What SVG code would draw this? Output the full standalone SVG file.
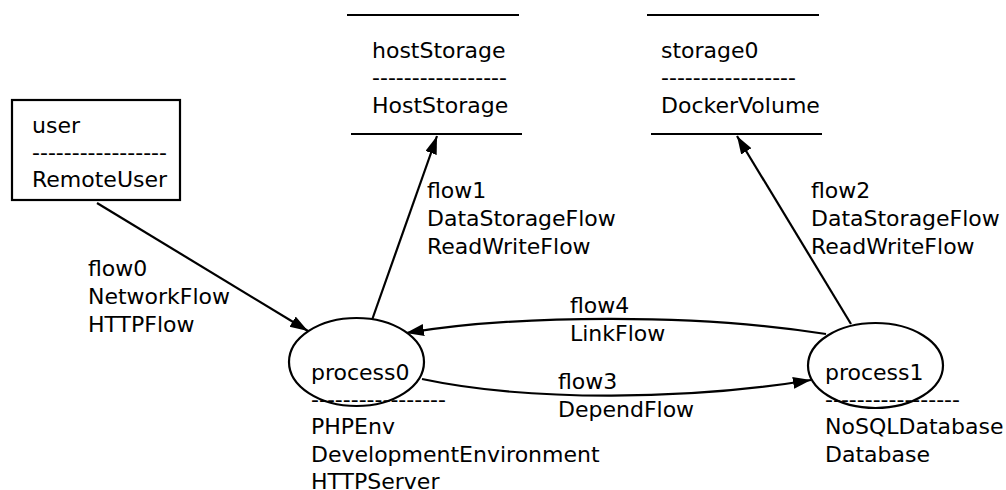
<svg xmlns="http://www.w3.org/2000/svg" width="1006" height="490" viewBox="0 0 1006 490">
<defs>
<marker id="arr" markerUnits="userSpaceOnUse" markerWidth="20" markerHeight="14" refX="18" refY="6" orient="auto">
<path d="M0,0 L18,6 L0,12 z" fill="#000"/>
</marker>
<style>
text{font-family:"DejaVu Sans",sans-serif;font-size:22px;fill:#000}
.shape{fill:#fff;stroke:#000;stroke-width:2.2}
.line{stroke:#000;stroke-width:2.2;fill:none}
.edge{stroke:#000;stroke-width:2.2;fill:none;marker-end:url(#arr)}
</style>
</defs>
<rect width="1006" height="490" fill="#fff"/>
<g id="connectors">
<path class="edge" d="M97,203 L308,331"/>
<path class="edge" d="M372,320 L437,136"/>
<path class="edge" d="M851,324 L737,136"/>
<path class="edge" d="M826,334 C700,314 520,314 406,333"/>
<path class="edge" d="M422,379 C530,402 690,400 811,380"/>
</g>
<g id="user">
<rect class="shape" x="12" y="100" width="168" height="100"/>
<text x="32" y="133">user</text>
<text x="32" y="160">-----------------</text>
<text x="32" y="187">RemoteUser</text>
</g>
<g id="hostStorage">
<line class="line" x1="347" y1="15" x2="519" y2="15"/>
<line class="line" x1="351" y1="134" x2="522" y2="134"/>
<text x="372" y="58">hostStorage</text>
<text x="372" y="85">-----------------</text>
<text x="372" y="113">HostStorage</text>
</g>
<g id="storage0">
<line class="line" x1="647" y1="15" x2="819" y2="15"/>
<line class="line" x1="651" y1="134" x2="822" y2="134"/>
<text x="661" y="58">storage0</text>
<text x="661" y="85">-----------------</text>
<text x="661" y="113">DockerVolume</text>
</g>
<g id="process0">
<ellipse class="shape" cx="356.5" cy="362" rx="67.5" ry="44"/>
<text x="311" y="380">process0</text>
<text x="311" y="407">-----------------</text>
<text x="311" y="434">PHPEnv</text>
<text x="311" y="462">DevelopmentEnvironment</text>
<text x="311" y="489">HTTPServer</text>
</g>
<g id="process1">
<ellipse class="shape" cx="875.5" cy="365.5" rx="67.5" ry="42.5"/>
<text x="825" y="380">process1</text>
<text x="825" y="407">-----------------</text>
<text x="825" y="434">NoSQLDatabase</text>
<text x="825" y="462">Database</text>
</g>
<g id="labels">
<text x="88" y="276">flow0</text>
<text x="88" y="304">NetworkFlow</text>
<text x="88" y="332">HTTPFlow</text>
<text x="427" y="198">flow1</text>
<text x="427" y="226">DataStorageFlow</text>
<text x="427" y="254">ReadWriteFlow</text>
<text x="811" y="198">flow2</text>
<text x="811" y="226">DataStorageFlow</text>
<text x="811" y="254">ReadWriteFlow</text>
<text x="570" y="313">flow4</text>
<text x="570" y="341">LinkFlow</text>
<text x="558" y="389">flow3</text>
<text x="558" y="417">DependFlow</text>
</g>
</svg>
